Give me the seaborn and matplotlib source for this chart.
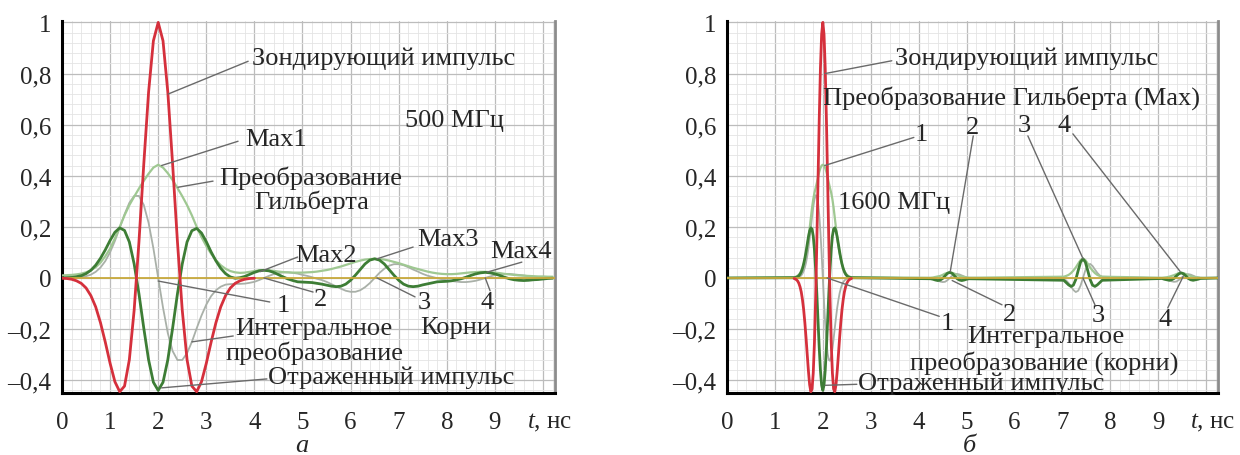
import numpy as np
import matplotlib
matplotlib.use("Agg")
import matplotlib.pyplot as plt
from matplotlib.ticker import MultipleLocator
import seaborn as sns

# -------- panel а: 500 MHz, sampled every 0.1 ns --------
t_a = np.round(np.arange(0, 10.21, 0.1), 1)

# probe pulse is only non-zero on 0..4 ns
probe_a = [-0.001, -0.002, -0.005, -0.011, -0.021, -0.039, -0.069, -0.113, -0.175, -0.251,
           -0.334, -0.406, -0.445, -0.423, -0.320, -0.126, 0.142, 0.445, 0.727, 0.928,
           1.000, 0.928, 0.727, 0.445, 0.142, -0.126, -0.320, -0.423, -0.445, -0.406,
           -0.334, -0.251, -0.175, -0.113, -0.069, -0.039, -0.021, -0.011, -0.005, -0.002,
           -0.001]

refl_a = [0.000, 0.001, 0.002, 0.005, 0.009, 0.017, 0.030, 0.050, 0.077, 0.110,
          0.147, 0.179, 0.196, 0.186, 0.141, 0.055, -0.062, -0.196, -0.320, -0.408,
          -0.440, -0.408, -0.320, -0.196, -0.062, 0.055, 0.141, 0.185, 0.194, 0.176,
          0.142, 0.102, 0.067, 0.038, 0.017, 0.004, -0.001, 0.001, 0.006, 0.014,
          0.022, 0.028, 0.030, 0.028, 0.022, 0.013, 0.004, -0.004, -0.010, -0.015,
          -0.016, -0.017, -0.018, -0.021, -0.024, -0.028, -0.032, -0.034, -0.032, -0.024,
          -0.009, 0.011, 0.033, 0.055, 0.070, 0.075, 0.070, 0.055, 0.033, 0.011,
          -0.009, -0.024, -0.032, -0.034, -0.032, -0.027, -0.023, -0.019, -0.015, -0.014,
          -0.013, -0.011, -0.007, -0.003, 0.003, 0.010, 0.016, 0.020, 0.022, 0.020,
          0.016, 0.010, 0.003, -0.003, -0.007, -0.009, -0.010, -0.009, -0.007, -0.006,
          -0.004, -0.002, -0.001]

hilb_a = [0.010, 0.011, 0.012, 0.014, 0.017, 0.022, 0.030, 0.042, 0.060, 0.085,
          0.115, 0.155, 0.200, 0.245, 0.285, 0.318, 0.350, 0.380, 0.408, 0.432,
          0.443, 0.432, 0.410, 0.383, 0.352, 0.320, 0.285, 0.245, 0.200, 0.160,
          0.125, 0.095, 0.070, 0.050, 0.036, 0.027, 0.022, 0.020, 0.021, 0.024,
          0.027, 0.030, 0.031, 0.030, 0.028, 0.025, 0.023, 0.022, 0.021, 0.021,
          0.021, 0.022, 0.023, 0.025, 0.028, 0.031, 0.035, 0.040, 0.045, 0.051,
          0.057, 0.063, 0.068, 0.072, 0.074, 0.075, 0.074, 0.072, 0.068, 0.063,
          0.058, 0.052, 0.046, 0.040, 0.035, 0.030, 0.025, 0.021, 0.018, 0.016,
          0.015, 0.015, 0.016, 0.018, 0.020, 0.022, 0.023, 0.024, 0.024, 0.023,
          0.021, 0.019, 0.016, 0.014, 0.012, 0.010, 0.009, 0.008, 0.007, 0.006,
          0.006, 0.005, 0.005]

integ_a = [0.002, 0.002, 0.002, 0.002, 0.004, 0.007, 0.013, 0.024, 0.041, 0.066,
           0.101, 0.145, 0.196, 0.249, 0.294, 0.321, 0.321, 0.286, 0.216, 0.116,
           0.000, -0.116, -0.216, -0.286, -0.321, -0.321, -0.294, -0.250, -0.197, -0.147,
           -0.104, -0.071, -0.048, -0.034, -0.026, -0.024, -0.023, -0.023, -0.022, -0.019,
           -0.015, -0.008, 0.000, 0.008, 0.015, 0.019, 0.022, 0.022, 0.020, 0.017,
           0.012, 0.008, 0.003, -0.003, -0.008, -0.015, -0.024, -0.033, -0.042, -0.050,
           -0.054, -0.054, -0.048, -0.036, -0.020, 0.000, 0.020, 0.036, 0.048, 0.054,
           0.054, 0.050, 0.042, 0.033, 0.025, 0.016, 0.009, 0.004, -0.001, -0.005,
           -0.009, -0.012, -0.014, -0.016, -0.016, -0.014, -0.011, -0.006, 0.000, 0.006,
           0.011, 0.014, 0.016, 0.016, 0.014, 0.012, 0.010, 0.007, 0.005, 0.003,
           0.002, 0.001, 0.001]

# -------- panel б: 1600 MHz, main pulse every 0.025 ns, echoes every 0.05 ns --------
t_b_main = np.round(np.arange(1.4, 2.6001, 0.025), 3)
echo_centers_b = [4.65, 7.43, 9.48]
echo_offsets_b = np.round(np.arange(-0.4, 0.4001, 0.05), 2)

probe_b = [-0.002, -0.004, -0.007, -0.012, -0.021, -0.035, -0.055, -0.085, -0.124, -0.175,
           -0.235, -0.301, -0.365, -0.418, -0.445, -0.434, -0.372, -0.253, -0.078, 0.142,
           0.384, 0.621, 0.820, 0.953, 1.000,
           0.953, 0.820, 0.621, 0.384, 0.142, -0.078, -0.253, -0.372, -0.434, -0.445,
           -0.418, -0.365, -0.301, -0.235, -0.175, -0.124, -0.085, -0.055, -0.035, -0.021,
           -0.012, -0.007, -0.004, -0.002]

refl_b_main = [0.001, 0.002, 0.003, 0.005, 0.009, 0.015, 0.024, 0.037, 0.055, 0.077,
               0.103, 0.132, 0.161, 0.184, 0.196, 0.191, 0.164, 0.111, 0.034, -0.062,
               -0.169, -0.273, -0.361, -0.419, -0.440,
               -0.419, -0.361, -0.273, -0.169, -0.062, 0.034, 0.111, 0.164, 0.191, 0.196,
               0.184, 0.161, 0.132, 0.103, 0.077, 0.055, 0.037, 0.024, 0.015, 0.009,
               0.005, 0.003, 0.002, 0.001]
refl_b_echo = [
    [-0.003, -0.005, -0.008, -0.010, -0.008, -0.002, 0.008, 0.018, 0.022,
     0.018, 0.008, -0.002, -0.008, -0.010, -0.008, -0.005, -0.003],
    [-0.009, -0.018, -0.027, -0.033, -0.028, -0.006, 0.029, 0.062, 0.075,
     0.062, 0.029, -0.006, -0.028, -0.033, -0.027, -0.018, -0.009],
    [-0.002, -0.005, -0.007, -0.009, -0.007, -0.002, 0.008, 0.016, 0.020,
     0.016, 0.008, -0.002, -0.007, -0.009, -0.007, -0.005, -0.002],
]

hilb_b_main = [0.003, 0.004, 0.006, 0.009, 0.013, 0.019, 0.028, 0.039, 0.054, 0.073,
               0.097, 0.125, 0.158, 0.195, 0.235, 0.275, 0.308, 0.333, 0.352, 0.372,
               0.395, 0.415, 0.430, 0.440, 0.443,
               0.440, 0.430, 0.415, 0.395, 0.372, 0.352, 0.333, 0.308, 0.275, 0.235,
               0.195, 0.158, 0.125, 0.097, 0.073, 0.054, 0.039, 0.028, 0.019, 0.013,
               0.009, 0.006, 0.004, 0.003]
hilb_b_echo = [
    [0.001, 0.002, 0.004, 0.006, 0.008, 0.012, 0.017, 0.020, 0.022,
     0.020, 0.017, 0.012, 0.008, 0.006, 0.004, 0.002, 0.001],
    [0.005, 0.008, 0.012, 0.019, 0.029, 0.041, 0.056, 0.070, 0.075,
     0.070, 0.056, 0.041, 0.029, 0.019, 0.012, 0.008, 0.005],
    [0.001, 0.002, 0.003, 0.005, 0.008, 0.011, 0.015, 0.019, 0.020,
     0.019, 0.015, 0.011, 0.008, 0.005, 0.003, 0.002, 0.001],
]

integ_b_main = [0.000, 0.001, 0.001, 0.002, 0.003, 0.006, 0.010, 0.017, 0.027, 0.041,
                0.060, 0.086, 0.117, 0.155, 0.196, 0.238, 0.277, 0.307, 0.324, 0.321,
                0.296, 0.248, 0.179, 0.094, 0.000,
                -0.094, -0.179, -0.248, -0.296, -0.321, -0.324, -0.307, -0.277, -0.238, -0.196,
                -0.155, -0.117, -0.086, -0.060, -0.041, -0.027, -0.017, -0.010, -0.006, -0.003,
                -0.002, -0.001, -0.001, 0.000]
integ_b_echo = [
    [-0.001, -0.003, -0.006, -0.010, -0.014, -0.016, -0.015, -0.009, 0.000,
     0.009, 0.015, 0.016, 0.014, 0.010, 0.006, 0.003, 0.001],
    [-0.005, -0.010, -0.020, -0.033, -0.047, -0.055, -0.050, -0.030, 0.000,
     0.030, 0.050, 0.055, 0.047, 0.033, 0.020, 0.010, 0.005],
    [-0.001, -0.003, -0.005, -0.009, -0.013, -0.015, -0.014, -0.008, 0.000,
     0.008, 0.014, 0.015, 0.013, 0.009, 0.005, 0.003, 0.001],
]

x_ticks = list(range(11))
x_labels = [str(i) for i in range(10)] + [""]
y_ticks = [-0.4, -0.2, 0, 0.2, 0.4, 0.6, 0.8, 1.0]
y_labels = ["\u20130,4", "\u20130,2", "0", "0,2", "0,4", "0,6", "0,8", "1"]

FS = 19      # annotation text
FS_TICK = 18
RED = "#d5303c"
DKGREEN = "#3d7d35"
LTGREEN = "#9fc892"
GRAY = "#a9b0a8"
OLIVE = "#c9aa3c"
LEAD = "#6a6a6a"


def series_b(main, echoes):
    t = [0.0] + list(t_b_main)
    v = [0.0] + list(main)
    for c, e in zip(echo_centers_b, echoes):
        t += list(np.round(c + echo_offsets_b, 3))
        v += list(e)
    return t + [10.25], v + [0.0]


def style_axes(ax):
    ax.set_xlim(0, 10.25)
    ax.set_ylim(-0.45, 1.006)
    ax.set_xticks(x_ticks)
    ax.set_xticklabels(x_labels)
    ax.set_yticks(y_ticks)
    ax.set_yticklabels(y_labels)
    ax.xaxis.set_minor_locator(MultipleLocator(0.2))
    ax.yaxis.set_minor_locator(MultipleLocator(0.04))
    ax.grid(which="major", color="#bcbcbc", lw=0.9, zorder=0)
    ax.grid(which="minor", color="#e4e4e4", lw=0.6, zorder=0)
    ax.set_axisbelow(True)
    ax.tick_params(which="major", direction="out", length=5, width=1.2, color="black",
                   labelsize=FS_TICK)
    ax.tick_params(which="minor", direction="out", length=3.5, width=0.9, color="#333333")
    ax.tick_params(axis="x", which="major", pad=8)
    ax.tick_params(axis="y", which="major", pad=2.5)
    for side in ["left", "bottom"]:
        ax.spines[side].set_color("black")
        ax.spines[side].set_linewidth(2.2)
    ax.spines["right"].set_color("#8c8c8c")
    ax.spines["right"].set_linewidth(2)
    ax.spines["top"].set_visible(False)
    ax.set_xlabel("")
    ax.set_ylabel("")
    ax.text(9.67, -0.077, "$t$, нс", transform=ax.get_xaxis_transform(),
            ha="left", va="center", fontsize=FS_TICK)


def note(ax, text, pos, start=None, end=None, ha="left", ls=1.05):
    ax.text(pos[0], pos[1], text, ha=ha, va="center", fontsize=FS,
            multialignment="center", linespacing=ls, zorder=6)
    if start is not None:
        ax.annotate("", xy=end, xytext=start,
                    arrowprops=dict(arrowstyle="-", color=LEAD, lw=1.0,
                                    shrinkA=0, shrinkB=0), zorder=5)


def draw(ax, t, tp, probe, refl, hilb, integ):
    sns.lineplot(x=t, y=integ, ax=ax, color=GRAY, lw=1.3, estimator=None, sort=False, zorder=2)
    sns.lineplot(x=t, y=hilb, ax=ax, color=LTGREEN, lw=1.6, estimator=None, sort=False, zorder=3)
    sns.lineplot(x=t, y=refl, ax=ax, color=DKGREEN, lw=2.0, estimator=None, sort=False, zorder=4)
    ax.axhline(0, color=OLIVE, lw=1.3, zorder=4.5)
    sns.lineplot(x=tp, y=probe, ax=ax, color=RED, lw=2.0, estimator=None, sort=False, zorder=5)


sns.set_theme(style="white")
plt.rcParams["font.family"] = ["Liberation Serif", "DejaVu Serif"]
plt.rcParams["mathtext.fontset"] = "custom"
plt.rcParams["mathtext.it"] = "Liberation Serif:italic"
plt.rcParams["mathtext.rm"] = "Liberation Serif"

fig = plt.figure(figsize=(12.4, 4.56), dpi=100)
ax_a = fig.add_axes([0.050, 0.136, 0.3976, 0.816])
ax_b = fig.add_axes([0.5863, 0.136, 0.396, 0.816])

# -------- panel а --------
draw(ax_a, t_a, t_a[:len(probe_a)], probe_a, refl_a, hilb_a, integ_a)
style_axes(ax_a)
note(ax_a, "Зондирующий импульс", (3.95, 0.863), (3.87, 0.848), (2.21, 0.72))
note(ax_a, "Max1", (3.80, 0.543), (3.66, 0.535), (2.07, 0.44))
note(ax_a, "Преобразование\nГильберта", (5.18, 0.348), (3.14, 0.379), (2.41, 0.355), ha="center")
note(ax_a, "500 МГц", (7.13, 0.62))
note(ax_a, "Max2", (4.84, 0.09), (4.90, 0.082), (4.12, 0.025))
note(ax_a, "Max3", (7.38, 0.152), (7.30, 0.121), (6.55, 0.075))
note(ax_a, "Max4", (8.90, 0.105), (9.56, 0.062), (8.84, 0.023))
note(ax_a, "1", (4.60, -0.105), (4.32, -0.094), (2.00, -0.012), ha="center")
note(ax_a, "2", (5.38, -0.082), (5.22, -0.055), (4.20, 0.0), ha="center")
note(ax_a, "3", (7.53, -0.094), (7.34, -0.074), (6.55, 0.0), ha="center")
note(ax_a, "4", (8.84, -0.094), (8.90, -0.050), (8.80, 0.0), ha="center")
note(ax_a, "Корни", (7.44, -0.19))
note(ax_a, "Интегральное\nпреобразование", (5.24, -0.244), (3.56, -0.227), (2.70, -0.25), ha="center")
note(ax_a, "Отраженный импульс", (4.28, -0.387), (4.26, -0.395), (2.07, -0.43))

# -------- panel б --------
tb, refl_b = series_b(refl_b_main, refl_b_echo)
_, hilb_b = series_b(hilb_b_main, hilb_b_echo)
_, integ_b = series_b(integ_b_main, integ_b_echo)
draw(ax_b, tb, t_b_main, probe_b, refl_b, hilb_b, integ_b)
style_axes(ax_b)
note(ax_b, "Зондирующий импульс", (3.51, 0.861), (3.44, 0.85), (2.05, 0.80))
note(ax_b, "Преобразование Гильберта (Max)", (2.00, 0.709))
note(ax_b, "1", (4.05, 0.564), (3.90, 0.55), (2.04, 0.44), ha="center")
note(ax_b, "2", (5.12, 0.592), (5.14, 0.556), (4.66, 0.025), ha="center")
note(ax_b, "3", (6.20, 0.600), (6.28, 0.556), (7.43, 0.076), ha="center")
note(ax_b, "4", (7.04, 0.600), (7.22, 0.564), (9.46, 0.025), ha="center")
note(ax_b, "1600 МГц", (2.32, 0.299))
note(ax_b, "1", (4.60, -0.175), (4.43, -0.150), (2.09, 0.0), ha="center")
note(ax_b, "2", (5.89, -0.140), (5.74, -0.105), (4.70, -0.01), ha="center")
note(ax_b, "3", (7.75, -0.145), (7.68, -0.105), (7.43, 0.0), ha="center")
note(ax_b, "4", (9.14, -0.160), (9.20, -0.117), (9.52, 0.005), ha="center")
note(ax_b, "Интегральное", (6.66, -0.228), ha="center")
note(ax_b, "преобразование (корни)", (6.62, -0.330), ha="center")
note(ax_b, "Отраженный импульс", (2.73, -0.410), (2.71, -0.416), (2.05, -0.42))

fig.text(0.2435, 0.009, "а", fontsize=FS, fontstyle="italic", ha="center", va="baseline")
fig.text(0.7815, 0.009, "б", fontsize=FS, fontstyle="italic", ha="center", va="baseline")

fig.savefig("out.png", dpi=100, facecolor="white")
